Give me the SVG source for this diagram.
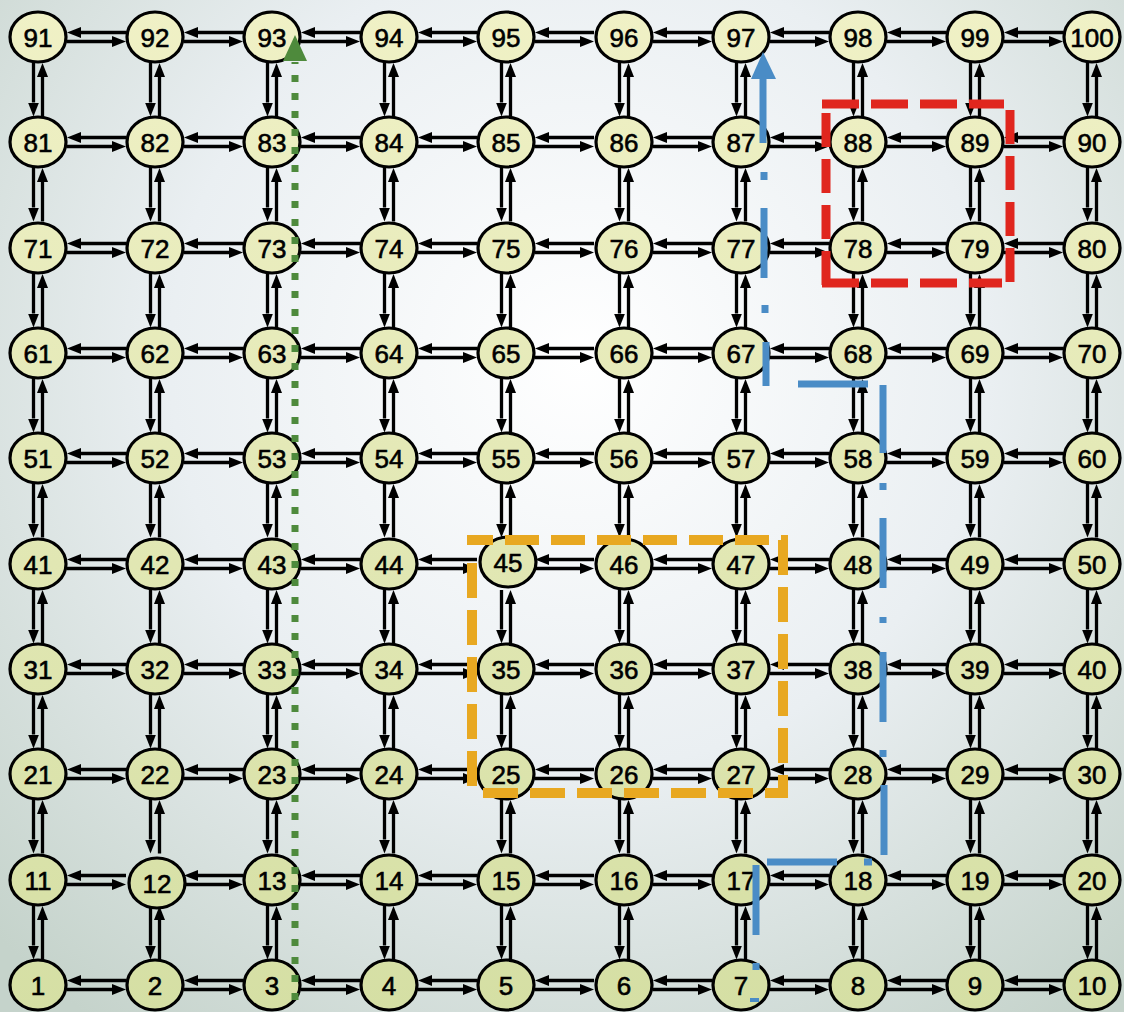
<svg xmlns="http://www.w3.org/2000/svg" xmlns:xlink="http://www.w3.org/1999/xlink" width="1124" height="1012" viewBox="0 0 1124 1012">
<defs>
<radialGradient id="bg" gradientUnits="userSpaceOnUse" cx="580" cy="360" r="820">
<stop offset="0" stop-color="#ffffff"/>
<stop offset="0.5" stop-color="#eaeff2"/>
<stop offset="1" stop-color="#c5d3cb"/>
</radialGradient>
<linearGradient id="nf" gradientUnits="userSpaceOnUse" x1="0" y1="0" x2="0" y2="1012">
<stop offset="0" stop-color="#f0f1c6"/>
<stop offset="1" stop-color="#d5dfa4"/>
</linearGradient>
<marker id="ah" markerUnits="userSpaceOnUse" markerWidth="14" markerHeight="11" viewBox="0 0 14 11" refX="0" refY="5.5" orient="auto"><path d="M0,0 L14,5.5 L0,11 z" fill="#000"/></marker>
<g id="hp"><line x1="88" y1="-4.5" x2="43" y2="-4.5"/><line x1="29" y1="4.5" x2="74" y2="4.5"/></g>
<g id="vp"><line x1="-4.5" y1="26" x2="-4.5" y2="65.5"/><line x1="4.5" y1="79.5" x2="4.5" y2="40"/></g>
</defs>
<style>
#hp line, #vp line{stroke:#000;stroke-width:3.3;marker-end:url(#ah)}
.n ellipse{fill:url(#nf);stroke:#000;stroke-width:3.2}
.n text{font-family:"Liberation Sans",Arial,sans-serif;font-size:26px;text-anchor:middle;fill:#000;stroke:#000;stroke-width:0.6}
</style>
<rect width="1124" height="1012" fill="url(#bg)"/>
<g id="connectors">
<use href="#hp" x="38" y="37"/><use href="#hp" x="155" y="37"/><use href="#hp" x="272" y="37"/><use href="#hp" x="389" y="37"/><use href="#hp" x="506" y="37"/><use href="#hp" x="624" y="37"/><use href="#hp" x="741" y="37"/><use href="#hp" x="858" y="37"/><use href="#hp" x="975" y="37"/>
<use href="#hp" x="38" y="142"/><use href="#hp" x="155" y="142"/><use href="#hp" x="272" y="142"/><use href="#hp" x="389" y="142"/><use href="#hp" x="506" y="142"/><use href="#hp" x="624" y="142"/><use href="#hp" x="741" y="142"/><use href="#hp" x="858" y="142"/><use href="#hp" x="975" y="142"/>
<use href="#hp" x="38" y="248"/><use href="#hp" x="155" y="248"/><use href="#hp" x="272" y="248"/><use href="#hp" x="389" y="248"/><use href="#hp" x="506" y="248"/><use href="#hp" x="624" y="248"/><use href="#hp" x="741" y="248"/><use href="#hp" x="858" y="248"/><use href="#hp" x="975" y="248"/>
<use href="#hp" x="38" y="353"/><use href="#hp" x="155" y="353"/><use href="#hp" x="272" y="353"/><use href="#hp" x="389" y="353"/><use href="#hp" x="506" y="353"/><use href="#hp" x="624" y="353"/><use href="#hp" x="741" y="353"/><use href="#hp" x="858" y="353"/><use href="#hp" x="975" y="353"/>
<use href="#hp" x="38" y="458"/><use href="#hp" x="155" y="458"/><use href="#hp" x="272" y="458"/><use href="#hp" x="389" y="458"/><use href="#hp" x="506" y="458"/><use href="#hp" x="624" y="458"/><use href="#hp" x="741" y="458"/><use href="#hp" x="858" y="458"/><use href="#hp" x="975" y="458"/>
<use href="#hp" x="38" y="564"/><use href="#hp" x="155" y="564"/><use href="#hp" x="272" y="564"/><use href="#hp" x="389" y="564"/><use href="#hp" x="506" y="564"/><use href="#hp" x="624" y="564"/><use href="#hp" x="741" y="564"/><use href="#hp" x="858" y="564"/><use href="#hp" x="975" y="564"/>
<use href="#hp" x="38" y="669"/><use href="#hp" x="155" y="669"/><use href="#hp" x="272" y="669"/><use href="#hp" x="389" y="669"/><use href="#hp" x="506" y="669"/><use href="#hp" x="624" y="669"/><use href="#hp" x="741" y="669"/><use href="#hp" x="858" y="669"/><use href="#hp" x="975" y="669"/>
<use href="#hp" x="38" y="774"/><use href="#hp" x="155" y="774"/><use href="#hp" x="272" y="774"/><use href="#hp" x="389" y="774"/><use href="#hp" x="506" y="774"/><use href="#hp" x="624" y="774"/><use href="#hp" x="741" y="774"/><use href="#hp" x="858" y="774"/><use href="#hp" x="975" y="774"/>
<use href="#hp" x="38" y="880"/><use href="#hp" x="155" y="880"/><use href="#hp" x="272" y="880"/><use href="#hp" x="389" y="880"/><use href="#hp" x="506" y="880"/><use href="#hp" x="624" y="880"/><use href="#hp" x="741" y="880"/><use href="#hp" x="858" y="880"/><use href="#hp" x="975" y="880"/>
<use href="#hp" x="38" y="985"/><use href="#hp" x="155" y="985"/><use href="#hp" x="272" y="985"/><use href="#hp" x="389" y="985"/><use href="#hp" x="506" y="985"/><use href="#hp" x="624" y="985"/><use href="#hp" x="741" y="985"/><use href="#hp" x="858" y="985"/><use href="#hp" x="975" y="985"/>
<use href="#vp" x="38" y="37"/><use href="#vp" x="38" y="142"/><use href="#vp" x="38" y="248"/><use href="#vp" x="38" y="353"/><use href="#vp" x="38" y="458"/><use href="#vp" x="38" y="564"/><use href="#vp" x="38" y="669"/><use href="#vp" x="38" y="774"/><use href="#vp" x="38" y="880"/>
<use href="#vp" x="155" y="37"/><use href="#vp" x="155" y="142"/><use href="#vp" x="155" y="248"/><use href="#vp" x="155" y="353"/><use href="#vp" x="155" y="458"/><use href="#vp" x="155" y="564"/><use href="#vp" x="155" y="669"/><use href="#vp" x="155" y="774"/><use href="#vp" x="155" y="880"/>
<use href="#vp" x="272" y="37"/><use href="#vp" x="272" y="142"/><use href="#vp" x="272" y="248"/><use href="#vp" x="272" y="353"/><use href="#vp" x="272" y="458"/><use href="#vp" x="272" y="564"/><use href="#vp" x="272" y="669"/><use href="#vp" x="272" y="774"/><use href="#vp" x="272" y="880"/>
<use href="#vp" x="389" y="37"/><use href="#vp" x="389" y="142"/><use href="#vp" x="389" y="248"/><use href="#vp" x="389" y="353"/><use href="#vp" x="389" y="458"/><use href="#vp" x="389" y="564"/><use href="#vp" x="389" y="669"/><use href="#vp" x="389" y="774"/><use href="#vp" x="389" y="880"/>
<use href="#vp" x="506" y="37"/><use href="#vp" x="506" y="142"/><use href="#vp" x="506" y="248"/><use href="#vp" x="506" y="353"/><use href="#vp" x="506" y="458"/><use href="#vp" x="506" y="564"/><use href="#vp" x="506" y="669"/><use href="#vp" x="506" y="774"/><use href="#vp" x="506" y="880"/>
<use href="#vp" x="624" y="37"/><use href="#vp" x="624" y="142"/><use href="#vp" x="624" y="248"/><use href="#vp" x="624" y="353"/><use href="#vp" x="624" y="458"/><use href="#vp" x="624" y="564"/><use href="#vp" x="624" y="669"/><use href="#vp" x="624" y="774"/><use href="#vp" x="624" y="880"/>
<use href="#vp" x="741" y="37"/><use href="#vp" x="741" y="142"/><use href="#vp" x="741" y="248"/><use href="#vp" x="741" y="353"/><use href="#vp" x="741" y="458"/><use href="#vp" x="741" y="564"/><use href="#vp" x="741" y="669"/><use href="#vp" x="741" y="774"/><use href="#vp" x="741" y="880"/>
<use href="#vp" x="858" y="37"/><use href="#vp" x="858" y="142"/><use href="#vp" x="858" y="248"/><use href="#vp" x="858" y="353"/><use href="#vp" x="858" y="458"/><use href="#vp" x="858" y="564"/><use href="#vp" x="858" y="669"/><use href="#vp" x="858" y="774"/><use href="#vp" x="858" y="880"/>
<use href="#vp" x="975" y="37"/><use href="#vp" x="975" y="142"/><use href="#vp" x="975" y="248"/><use href="#vp" x="975" y="353"/><use href="#vp" x="975" y="458"/><use href="#vp" x="975" y="564"/><use href="#vp" x="975" y="669"/><use href="#vp" x="975" y="774"/><use href="#vp" x="975" y="880"/>
<use href="#vp" x="1092" y="37"/><use href="#vp" x="1092" y="142"/><use href="#vp" x="1092" y="248"/><use href="#vp" x="1092" y="353"/><use href="#vp" x="1092" y="458"/><use href="#vp" x="1092" y="564"/><use href="#vp" x="1092" y="669"/><use href="#vp" x="1092" y="774"/><use href="#vp" x="1092" y="880"/>
</g>
<g id="nodes">
<g id="n1" class="n"><ellipse cx="38" cy="985" rx="28" ry="25"/><text x="38" y="994.5">1</text></g>
<g id="n2" class="n"><ellipse cx="155" cy="985" rx="28" ry="25"/><text x="155" y="994.5">2</text></g>
<g id="n3" class="n"><ellipse cx="272" cy="985" rx="28" ry="25"/><text x="272" y="994.5">3</text></g>
<g id="n4" class="n"><ellipse cx="389" cy="985" rx="28" ry="25"/><text x="389" y="994.5">4</text></g>
<g id="n5" class="n"><ellipse cx="506" cy="985" rx="28" ry="25"/><text x="506" y="994.5">5</text></g>
<g id="n6" class="n"><ellipse cx="624" cy="985" rx="28" ry="25"/><text x="624" y="994.5">6</text></g>
<g id="n7" class="n"><ellipse cx="741" cy="985" rx="28" ry="25"/><text x="741" y="994.5">7</text></g>
<g id="n8" class="n"><ellipse cx="858" cy="985" rx="28" ry="25"/><text x="858" y="994.5">8</text></g>
<g id="n9" class="n"><ellipse cx="975" cy="985" rx="28" ry="25"/><text x="975" y="994.5">9</text></g>
<g id="n10" class="n"><ellipse cx="1092" cy="985" rx="28" ry="25"/><text x="1092" y="994.5">10</text></g>
<g id="n11" class="n"><ellipse cx="38" cy="880" rx="28" ry="25"/><text x="38" y="889.5">11</text></g>
<g id="n12" class="n"><ellipse cx="157" cy="883" rx="28" ry="25"/><text x="157" y="892.5">12</text></g>
<g id="n13" class="n"><ellipse cx="272" cy="880" rx="28" ry="25"/><text x="272" y="889.5">13</text></g>
<g id="n14" class="n"><ellipse cx="389" cy="880" rx="28" ry="25"/><text x="389" y="889.5">14</text></g>
<g id="n15" class="n"><ellipse cx="506" cy="880" rx="28" ry="25"/><text x="506" y="889.5">15</text></g>
<g id="n16" class="n"><ellipse cx="624" cy="880" rx="28" ry="25"/><text x="624" y="889.5">16</text></g>
<g id="n17" class="n"><ellipse cx="741" cy="880" rx="28" ry="25"/><text x="741" y="889.5">17</text></g>
<g id="n18" class="n"><ellipse cx="858" cy="880" rx="28" ry="25"/><text x="858" y="889.5">18</text></g>
<g id="n19" class="n"><ellipse cx="975" cy="880" rx="28" ry="25"/><text x="975" y="889.5">19</text></g>
<g id="n20" class="n"><ellipse cx="1092" cy="880" rx="28" ry="25"/><text x="1092" y="889.5">20</text></g>
<g id="n21" class="n"><ellipse cx="38" cy="774" rx="28" ry="25"/><text x="38" y="783.5">21</text></g>
<g id="n22" class="n"><ellipse cx="155" cy="774" rx="28" ry="25"/><text x="155" y="783.5">22</text></g>
<g id="n23" class="n"><ellipse cx="272" cy="774" rx="28" ry="25"/><text x="272" y="783.5">23</text></g>
<g id="n24" class="n"><ellipse cx="389" cy="774" rx="28" ry="25"/><text x="389" y="783.5">24</text></g>
<g id="n25" class="n"><ellipse cx="506" cy="774" rx="28" ry="25"/><text x="506" y="783.5">25</text></g>
<g id="n26" class="n"><ellipse cx="624" cy="774" rx="28" ry="25"/><text x="624" y="783.5">26</text></g>
<g id="n27" class="n"><ellipse cx="741" cy="774" rx="28" ry="25"/><text x="741" y="783.5">27</text></g>
<g id="n28" class="n"><ellipse cx="858" cy="774" rx="28" ry="25"/><text x="858" y="783.5">28</text></g>
<g id="n29" class="n"><ellipse cx="975" cy="774" rx="28" ry="25"/><text x="975" y="783.5">29</text></g>
<g id="n30" class="n"><ellipse cx="1092" cy="774" rx="28" ry="25"/><text x="1092" y="783.5">30</text></g>
<g id="n31" class="n"><ellipse cx="38" cy="669" rx="28" ry="25"/><text x="38" y="678.5">31</text></g>
<g id="n32" class="n"><ellipse cx="155" cy="669" rx="28" ry="25"/><text x="155" y="678.5">32</text></g>
<g id="n33" class="n"><ellipse cx="272" cy="669" rx="28" ry="25"/><text x="272" y="678.5">33</text></g>
<g id="n34" class="n"><ellipse cx="389" cy="669" rx="28" ry="25"/><text x="389" y="678.5">34</text></g>
<g id="n35" class="n"><ellipse cx="506" cy="669" rx="28" ry="25"/><text x="506" y="678.5">35</text></g>
<g id="n36" class="n"><ellipse cx="624" cy="669" rx="28" ry="25"/><text x="624" y="678.5">36</text></g>
<g id="n37" class="n"><ellipse cx="741" cy="669" rx="28" ry="25"/><text x="741" y="678.5">37</text></g>
<g id="n38" class="n"><ellipse cx="858" cy="669" rx="28" ry="25"/><text x="858" y="678.5">38</text></g>
<g id="n39" class="n"><ellipse cx="975" cy="669" rx="28" ry="25"/><text x="975" y="678.5">39</text></g>
<g id="n40" class="n"><ellipse cx="1092" cy="669" rx="28" ry="25"/><text x="1092" y="678.5">40</text></g>
<g id="n41" class="n"><ellipse cx="38" cy="564" rx="28" ry="25"/><text x="38" y="573.5">41</text></g>
<g id="n42" class="n"><ellipse cx="155" cy="564" rx="28" ry="25"/><text x="155" y="573.5">42</text></g>
<g id="n43" class="n"><ellipse cx="272" cy="564" rx="28" ry="25"/><text x="272" y="573.5">43</text></g>
<g id="n44" class="n"><ellipse cx="389" cy="564" rx="28" ry="25"/><text x="389" y="573.5">44</text></g>
<g id="n45" class="n"><ellipse cx="508" cy="562" rx="28" ry="25"/><text x="508" y="571.5">45</text></g>
<g id="n46" class="n"><ellipse cx="624" cy="564" rx="28" ry="25"/><text x="624" y="573.5">46</text></g>
<g id="n47" class="n"><ellipse cx="741" cy="564" rx="28" ry="25"/><text x="741" y="573.5">47</text></g>
<g id="n48" class="n"><ellipse cx="858" cy="564" rx="28" ry="25"/><text x="858" y="573.5">48</text></g>
<g id="n49" class="n"><ellipse cx="975" cy="564" rx="28" ry="25"/><text x="975" y="573.5">49</text></g>
<g id="n50" class="n"><ellipse cx="1092" cy="564" rx="28" ry="25"/><text x="1092" y="573.5">50</text></g>
<g id="n51" class="n"><ellipse cx="38" cy="458" rx="28" ry="25"/><text x="38" y="467.5">51</text></g>
<g id="n52" class="n"><ellipse cx="155" cy="458" rx="28" ry="25"/><text x="155" y="467.5">52</text></g>
<g id="n53" class="n"><ellipse cx="272" cy="458" rx="28" ry="25"/><text x="272" y="467.5">53</text></g>
<g id="n54" class="n"><ellipse cx="389" cy="458" rx="28" ry="25"/><text x="389" y="467.5">54</text></g>
<g id="n55" class="n"><ellipse cx="506" cy="458" rx="28" ry="25"/><text x="506" y="467.5">55</text></g>
<g id="n56" class="n"><ellipse cx="624" cy="458" rx="28" ry="25"/><text x="624" y="467.5">56</text></g>
<g id="n57" class="n"><ellipse cx="741" cy="458" rx="28" ry="25"/><text x="741" y="467.5">57</text></g>
<g id="n58" class="n"><ellipse cx="858" cy="458" rx="28" ry="25"/><text x="858" y="467.5">58</text></g>
<g id="n59" class="n"><ellipse cx="975" cy="458" rx="28" ry="25"/><text x="975" y="467.5">59</text></g>
<g id="n60" class="n"><ellipse cx="1092" cy="458" rx="28" ry="25"/><text x="1092" y="467.5">60</text></g>
<g id="n61" class="n"><ellipse cx="38" cy="353" rx="28" ry="25"/><text x="38" y="362.5">61</text></g>
<g id="n62" class="n"><ellipse cx="155" cy="353" rx="28" ry="25"/><text x="155" y="362.5">62</text></g>
<g id="n63" class="n"><ellipse cx="272" cy="353" rx="28" ry="25"/><text x="272" y="362.5">63</text></g>
<g id="n64" class="n"><ellipse cx="389" cy="353" rx="28" ry="25"/><text x="389" y="362.5">64</text></g>
<g id="n65" class="n"><ellipse cx="506" cy="353" rx="28" ry="25"/><text x="506" y="362.5">65</text></g>
<g id="n66" class="n"><ellipse cx="624" cy="353" rx="28" ry="25"/><text x="624" y="362.5">66</text></g>
<g id="n67" class="n"><ellipse cx="741" cy="353" rx="28" ry="25"/><text x="741" y="362.5">67</text></g>
<g id="n68" class="n"><ellipse cx="858" cy="353" rx="28" ry="25"/><text x="858" y="362.5">68</text></g>
<g id="n69" class="n"><ellipse cx="975" cy="353" rx="28" ry="25"/><text x="975" y="362.5">69</text></g>
<g id="n70" class="n"><ellipse cx="1092" cy="353" rx="28" ry="25"/><text x="1092" y="362.5">70</text></g>
<g id="n71" class="n"><ellipse cx="38" cy="248" rx="28" ry="25"/><text x="38" y="257.5">71</text></g>
<g id="n72" class="n"><ellipse cx="155" cy="248" rx="28" ry="25"/><text x="155" y="257.5">72</text></g>
<g id="n73" class="n"><ellipse cx="272" cy="248" rx="28" ry="25"/><text x="272" y="257.5">73</text></g>
<g id="n74" class="n"><ellipse cx="389" cy="248" rx="28" ry="25"/><text x="389" y="257.5">74</text></g>
<g id="n75" class="n"><ellipse cx="506" cy="248" rx="28" ry="25"/><text x="506" y="257.5">75</text></g>
<g id="n76" class="n"><ellipse cx="624" cy="248" rx="28" ry="25"/><text x="624" y="257.5">76</text></g>
<g id="n77" class="n"><ellipse cx="741" cy="248" rx="28" ry="25"/><text x="741" y="257.5">77</text></g>
<g id="n78" class="n"><ellipse cx="858" cy="248" rx="28" ry="25"/><text x="858" y="257.5">78</text></g>
<g id="n79" class="n"><ellipse cx="975" cy="248" rx="28" ry="25"/><text x="975" y="257.5">79</text></g>
<g id="n80" class="n"><ellipse cx="1092" cy="248" rx="28" ry="25"/><text x="1092" y="257.5">80</text></g>
<g id="n81" class="n"><ellipse cx="38" cy="142" rx="28" ry="25"/><text x="38" y="151.5">81</text></g>
<g id="n82" class="n"><ellipse cx="155" cy="142" rx="28" ry="25"/><text x="155" y="151.5">82</text></g>
<g id="n83" class="n"><ellipse cx="272" cy="142" rx="28" ry="25"/><text x="272" y="151.5">83</text></g>
<g id="n84" class="n"><ellipse cx="389" cy="142" rx="28" ry="25"/><text x="389" y="151.5">84</text></g>
<g id="n85" class="n"><ellipse cx="506" cy="142" rx="28" ry="25"/><text x="506" y="151.5">85</text></g>
<g id="n86" class="n"><ellipse cx="624" cy="142" rx="28" ry="25"/><text x="624" y="151.5">86</text></g>
<g id="n87" class="n"><ellipse cx="741" cy="142" rx="28" ry="25"/><text x="741" y="151.5">87</text></g>
<g id="n88" class="n"><ellipse cx="858" cy="142" rx="28" ry="25"/><text x="858" y="151.5">88</text></g>
<g id="n89" class="n"><ellipse cx="975" cy="142" rx="28" ry="25"/><text x="975" y="151.5">89</text></g>
<g id="n90" class="n"><ellipse cx="1092" cy="142" rx="28" ry="25"/><text x="1092" y="151.5">90</text></g>
<g id="n91" class="n"><ellipse cx="38" cy="37" rx="28" ry="25"/><text x="38" y="46.5">91</text></g>
<g id="n92" class="n"><ellipse cx="155" cy="37" rx="28" ry="25"/><text x="155" y="46.5">92</text></g>
<g id="n93" class="n"><ellipse cx="272" cy="37" rx="28" ry="25"/><text x="272" y="46.5">93</text></g>
<g id="n94" class="n"><ellipse cx="389" cy="37" rx="28" ry="25"/><text x="389" y="46.5">94</text></g>
<g id="n95" class="n"><ellipse cx="506" cy="37" rx="28" ry="25"/><text x="506" y="46.5">95</text></g>
<g id="n96" class="n"><ellipse cx="624" cy="37" rx="28" ry="25"/><text x="624" y="46.5">96</text></g>
<g id="n97" class="n"><ellipse cx="741" cy="37" rx="28" ry="25"/><text x="741" y="46.5">97</text></g>
<g id="n98" class="n"><ellipse cx="858" cy="37" rx="28" ry="25"/><text x="858" y="46.5">98</text></g>
<g id="n99" class="n"><ellipse cx="975" cy="37" rx="28" ry="25"/><text x="975" y="46.5">99</text></g>
<g id="n100" class="n"><ellipse cx="1092" cy="37" rx="28" ry="25"/><text x="1092" y="46.5">100</text></g>
</g>
<g id="overlays">
<g id="orange-box" stroke="#e8a821" stroke-width="10" fill="none">
<path d="M467,540H788" stroke-dasharray="34 12" stroke-dashoffset="8"/>
<path d="M783,540V798" stroke-dasharray="35 12"/>
<path d="M483,793H788" stroke-dasharray="35 12"/>
<path d="M472,563V798" stroke-dasharray="35 12"/>
</g>
<g id="red-box" stroke="#e0261e" stroke-width="9" fill="none">
<path d="M822,104H1004" stroke-dasharray="37 12"/>
<path d="M1010,110V283" stroke-dasharray="34 12"/>
<path d="M822,283H1002" stroke-dasharray="37 12"/>
<path d="M826,113V287" stroke-dasharray="34 12"/>
</g>
<g id="blue-path">
<path d="M763,78V143 M764,172V180 M764,208V278 M765,305V313 M766,342V386 M798,384H868 M883,385V453 M883,483V490 M883,518V588 M883,617V623 M883,652V722 M883,750V757 M884,785V855 M767,862H837 M864,862H872 M756,865V935 M756,963V970" fill="none" stroke="#4a8cc6" stroke-width="7"/>
<rect x="750" y="998" width="9" height="4" fill="#4a8cc6"/>
<polygon points="763,52 751,79 776,79" fill="#4a8cc6"/>
</g>
<g id="green-path">
<line x1="295" y1="1000" x2="295" y2="62" stroke="#4e8a3c" stroke-width="7" stroke-dasharray="7 11"/>
<polygon points="295,35 283,61 307,61" fill="#4e8a3c"/>
</g>
</g>
</svg>
